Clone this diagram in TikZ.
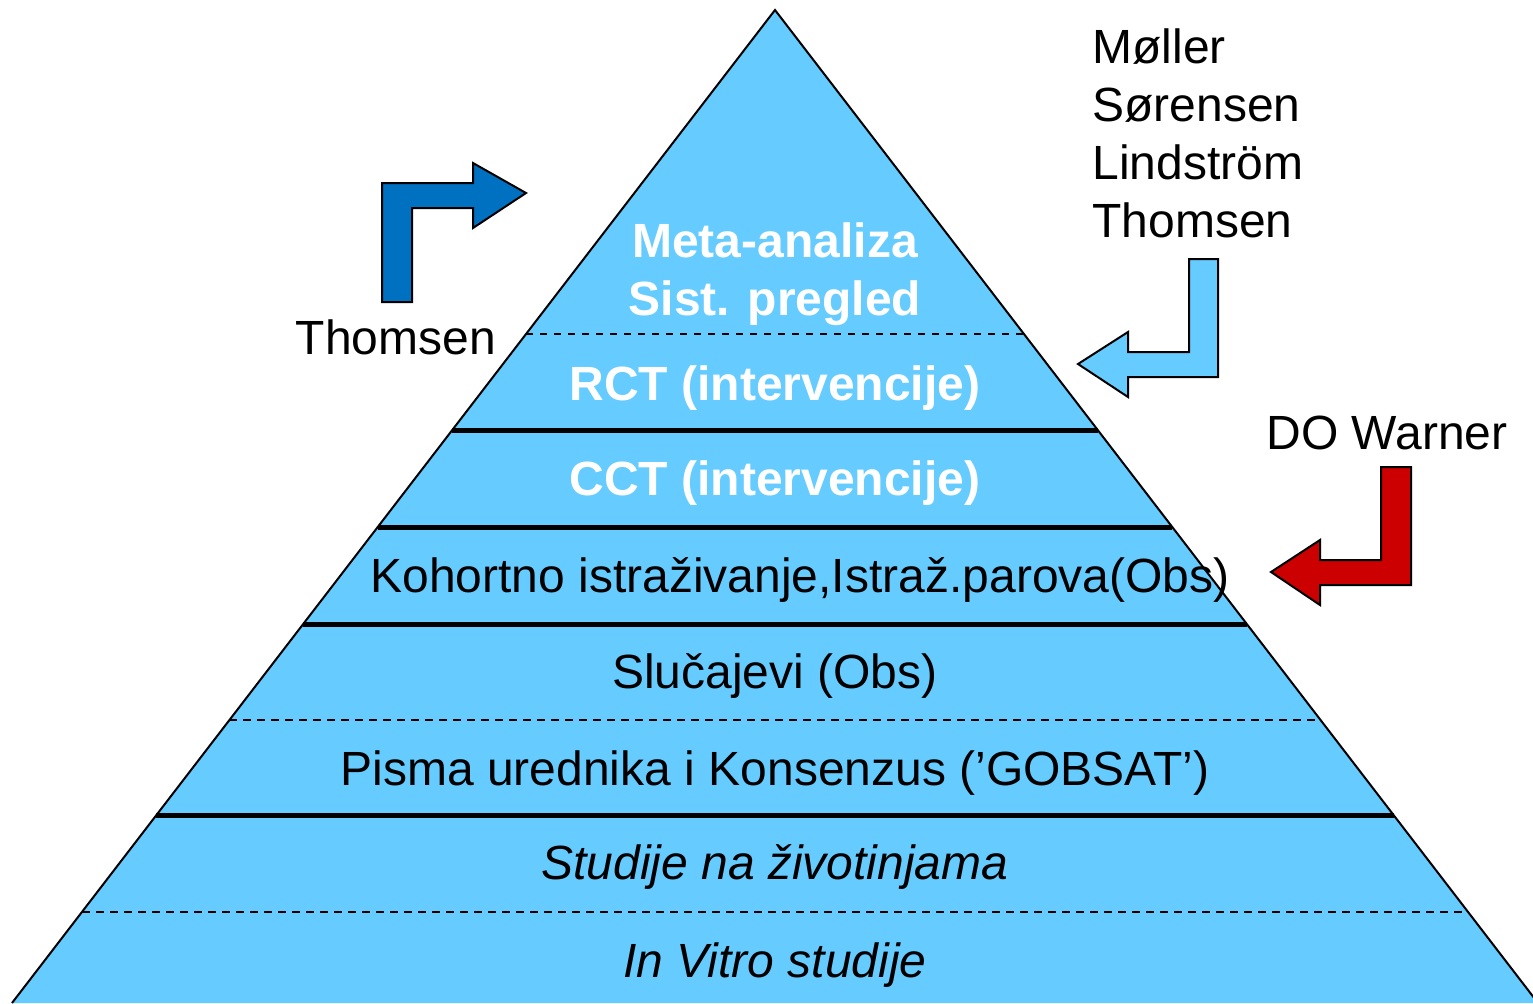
\documentclass[tikz,border=0pt]{standalone}
\usepackage{fontspec}
\setmainfont{Liberation Sans}
\usetikzlibrary{positioning}

\definecolor{pyrblue}{RGB}{102,204,255}
\definecolor{darkblue}{RGB}{0,112,192}
\definecolor{warnred}{RGB}{204,0,0}

\tikzset{
  txt/.style={font=\fontsize{24}{29}\selectfont, inner sep=0pt, anchor=base},
  whitetxt/.style={txt, font=\fontsize{24}{29}\selectfont\bfseries, text=white},
  italtxt/.style={txt, font=\fontsize{24}{29}\selectfont\itshape},
  solidsep/.style={line width=2.5pt},
  dashsep/.style={line width=1pt, dash pattern=on 4pt off 3pt},
  finesep/.style={line width=0.9pt, dash pattern=on 3.5pt off 3.5pt},
  bentarrow/.style={draw=black, line width=1pt, line join=miter}
}

\begin{document}
\begin{tikzpicture}[x=0.5pt, y=-0.5pt]
  \useasboundingbox (0,0) rectangle (1533,1003);

  % pyramid
  \coordinate (apex) at (775,10);
  \coordinate (baseL) at (12,1003);
  \coordinate (baseR) at (1538,1003);
  \fill[pyrblue] (apex) -- (baseL) -- (baseR) -- cycle;

  % level separators
  \draw[finesep]  (526,334) -- (1024,334);
  \draw[solidsep] (452,430) -- (1098,430);
  \draw[solidsep] (378,527) -- (1172,527);
  \draw[solidsep] (303,624) -- (1247,624);
  \draw[dashsep]  (229,720) -- (1321,720);
  \draw[solidsep] (156,815) -- (1394,815);
  \draw[dashsep]  (82,912) -- (1468,912);

  \draw[line width=1pt, line join=miter] (baseL) -- (apex) -- (baseR);

  % level texts
  \node[whitetxt] (meta) at (775,257) {Meta-analiza};
  \node[whitetxt] (sist) at (775,315) {Sist. pregled};
  \node[whitetxt] (rct) at (775,400) {RCT (intervencije)};
  \node[whitetxt] (cct) at (775,495) {CCT (intervencije)};
  \node[txt] (kohort) at (800,592) {Kohortno istraživanje,Istraž.parova(Obs)};
  \node[txt] (slucaj) at (775,688) {Slučajevi (Obs)};
  \node[txt] (pisma) at (775,785) {Pisma urednika i Konsenzus (’GOBSAT’)};
  \node[italtxt] (zivot) at (775,879) {Studije na životinjama};
  \node[italtxt] (vitro) at (775,977) {In Vitro studije};

  % authors
  \node[txt] (thomsenL) at (396,354) {Thomsen};
  \node[txt, anchor=base west] (moller) at (1092,63) {Møller};
  \node[txt, anchor=base west] (sorensen) at (1092,121) {Sørensen};
  \node[txt, anchor=base west] (lindstrom) at (1092,179) {Lindström};
  \node[txt, anchor=base west] (thomsenR) at (1092,237) {Thomsen};
  \node[txt] (warner) at (1387,449) {DO Warner};

  % arrows
  \filldraw[bentarrow, fill=darkblue] (382,302) -- (382,183) -- (473,183) -- (473,163)
    -- (526,193) -- (473,228) -- (473,208) -- (412,208) -- (412,302) -- cycle;
  \filldraw[bentarrow, fill=pyrblue] (1218,259) -- (1218,377) -- (1128,377) -- (1128,397)
    -- (1078,364) -- (1128,332) -- (1128,352) -- (1189,352) -- (1189,259) -- cycle;
  \filldraw[bentarrow, fill=warnred] (1411,467) -- (1411,585) -- (1320,585) -- (1320,605)
    -- (1271,572) -- (1320,540) -- (1320,560) -- (1381,560) -- (1381,467) -- cycle;
\end{tikzpicture}
\end{document}
